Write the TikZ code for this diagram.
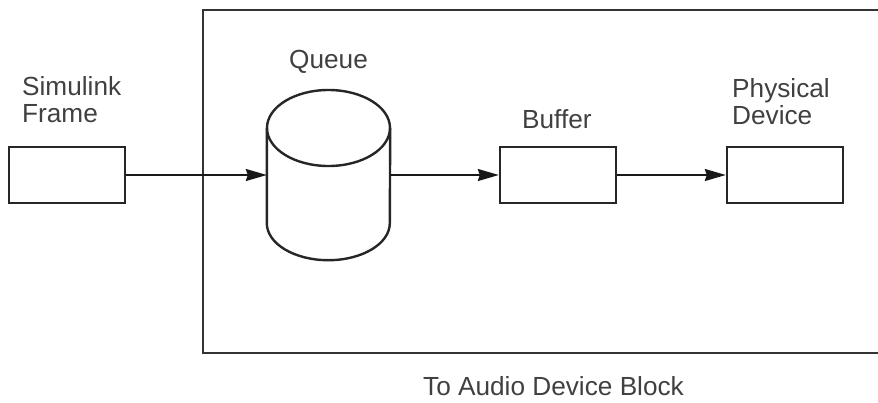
\documentclass[tikz,border=0pt]{standalone}
\usepackage{fontspec}
\setmainfont{Liberation Sans}
\usetikzlibrary{arrows.meta}
\begin{document}
\begin{tikzpicture}[x=1pt,y=-1pt,font=\fontsize{26.2}{26.5}\selectfont]
\useasboundingbox (0,0) rectangle (878,402);
\tikzset{
  blk/.style={draw=black!85, line width=2.4pt, minimum width=116pt, minimum height=56pt, inner sep=0pt},
  lbl/.style={anchor=base west, inner sep=0pt, text=black!75, align=left},
  conn/.style={draw=black!90, line width=1.8pt, -{Stealth[length=21pt,width=12pt,inset=2pt]}},
  outer/.style={draw=black!80, line width=2.8pt}
}
% outer block (open on the right, cut by the picture edge)
\draw[outer] (882,10) -- (203,10) -- (203,353) -- (882,353);
% boxes
\node[blk] (sim) at (66.8,175) {};
\node[blk] (buf) at (558,175) {};
\node[blk] (phy) at (785,175) {};
% queue cylinder
\node[inner sep=0pt, minimum width=123pt, minimum height=95pt] (q) at (328.5,175.5) {};
\draw[draw=black!85, line width=2.4pt] (328.5,128) ellipse [x radius=61.5, y radius=38];
\draw[draw=black!85, line width=2.4pt] (q.north west) -- (q.south west)
  arc[start angle=180, end angle=360, x radius=61.5, y radius=-37] -- (q.north east);
% labels
\node[lbl] (tsim) at (22,122) {Simulink\\Frame};
\node[lbl] (tq) at (289,68.3) {Queue};
\node[lbl] (tbuf) at (522,128.3) {Buffer};
\node[lbl] (tphy) at (732,124.3) {Physical\\Device};
\node[lbl] (tblk) at (423,395) {To Audio Device Block};
% connectors
\draw[conn] (sim.east) -- (q.west |- sim.east);
\draw[conn] (q.east |- buf.west) -- (buf.west);
\draw[conn] (buf.east) -- (phy.west);
\end{tikzpicture}
\end{document}
